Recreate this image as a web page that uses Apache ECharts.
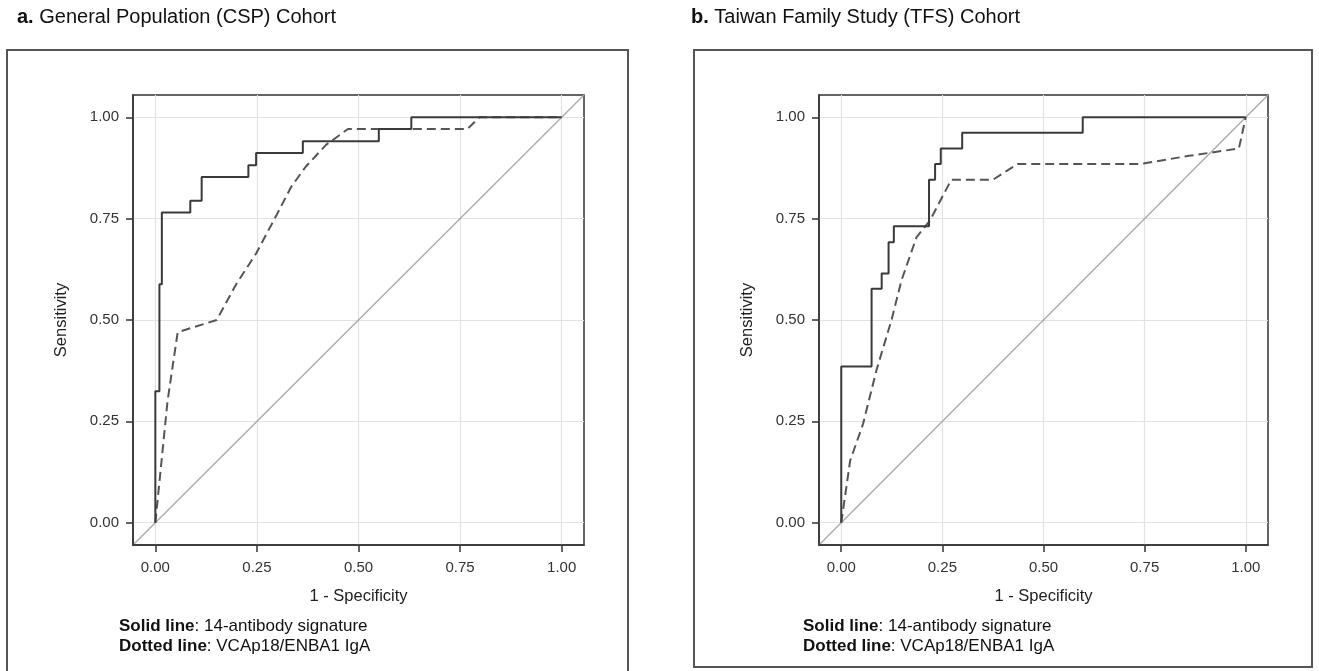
<!DOCTYPE html>
<html>
<head>
<meta charset="utf-8">
<script src="https://cdn.jsdelivr.net/npm/echarts@6/dist/echarts.min.js"></script>
<style>
  html, body { margin: 0; padding: 0; background: #fff; }
  #chart { width: 1319px; height: 671px; }
</style>
</head>
<body>
<div id="chart"></div>
<script>
// ---------- data ----------
const tickValues = [0, 0.25, 0.5, 0.75, 1];
const axisRange = [-0.055, 1.055];
const diagonalLine = [[-0.055, -0.055], [1.055, 1.055]];

// a. CSP cohort – solid (14-antibody signature), step ROC corners
const cspSolidFpr = [0, 0, 0.010, 0.010, 0.016, 0.016, 0.086, 0.086, 0.114, 0.114, 0.229, 0.229, 0.248, 0.248, 0.363, 0.363, 0.550, 0.550, 0.630, 0.630, 1.0];
const cspSolidTpr = [0, 0.324, 0.324, 0.588, 0.588, 0.765, 0.765, 0.794, 0.794, 0.853, 0.853, 0.882, 0.882, 0.912, 0.912, 0.941, 0.941, 0.971, 0.971, 1.0, 1.0];
// a. CSP cohort – dashed (VCAp18/EBNA1 IgA)
const cspDashFpr = [0, 0.006, 0.030, 0.055, 0.151, 0.200, 0.248, 0.300, 0.334, 0.370, 0.420, 0.474, 0.768, 0.798, 1.0];
const cspDashTpr = [0, 0.060, 0.300, 0.470, 0.500, 0.590, 0.664, 0.762, 0.828, 0.878, 0.932, 0.971, 0.971, 1.0, 1.0];

// b. TFS cohort – solid
const tfsSolidFpr = [0, 0, 0.075, 0.075, 0.100, 0.100, 0.117, 0.117, 0.130, 0.130, 0.217, 0.217, 0.232, 0.232, 0.246, 0.246, 0.299, 0.299, 0.597, 0.597, 1.0];
const tfsSolidTpr = [0, 0.385, 0.385, 0.577, 0.577, 0.615, 0.615, 0.692, 0.692, 0.731, 0.731, 0.846, 0.846, 0.885, 0.885, 0.923, 0.923, 0.962, 0.962, 1.0, 1.0];
// b. TFS cohort – dashed
const tfsDashFpr = [0, 0.022, 0.054, 0.087, 0.124, 0.149, 0.186, 0.219, 0.272, 0.375, 0.436, 0.740, 0.860, 0.983, 1.0];
const tfsDashTpr = [0, 0.153, 0.244, 0.376, 0.499, 0.598, 0.704, 0.745, 0.846, 0.846, 0.885, 0.885, 0.905, 0.923, 1.0];

const panelTitles = ['a.', 'b.'];
const panelNames = [' General Population (CSP) Cohort', ' Taiwan Family Study (TFS) Cohort'];
const xAxisTitle = '1 - Specificity';
const yAxisTitle = 'Sensitivity';
const legendSolid = ['Solid line', ': 14-antibody signature'];
const legendDotted = ['Dotted line', ': VCAp18/ENBA1 IgA'];

// ---------- helpers ----------
const FONT = '"Liberation Sans", Arial, Helvetica, sans-serif';
const zip = (xs, ys) => xs.map((x, i) => [x, ys[i]]);

const grids = [
  { left: 133, top: 95, width: 451, height: 450 },
  { left: 819, top: 95, width: 449, height: 450 }
];

function makeAxis(gridIndex, isX) {
  return {
    type: 'value',
    gridIndex: gridIndex,
    min: axisRange[0],
    max: axisRange[1],
    name: isX ? xAxisTitle : yAxisTitle,
    nameLocation: 'middle',
    nameGap: isX ? 43 : 63,
    nameTextStyle: { fontFamily: FONT, fontSize: 16.5, color: '#222' },
    axisLine: { show: true, onZero: false, lineStyle: { color: '#333', width: 1.5 } },
    axisTick: { show: true, inside: false, length: 7, customValues: tickValues, lineStyle: { color: '#333', width: 1.5 } },
    axisLabel: {
      show: true, customValues: tickValues, margin: isX ? 15 : 14,
      fontFamily: FONT, fontSize: 15, color: '#333',
      formatter: v => Number(v).toFixed(2)
    },
    splitLine: { show: false },
    z: 6
  };
}

function gridMarkLines() {
  const data = [];
  tickValues.forEach(v => { data.push({ xAxis: v }); data.push({ yAxis: v }); });
  return {
    silent: true,
    z: 1,
    symbol: ['none', 'none'],
    label: { show: false },
    lineStyle: { color: '#e2e2e2', width: 1.2, type: 'solid' },
    emphasis: { disabled: true },
    animation: false,
    data: data
  };
}

function panelSeries(gi, solidX, solidY, dashX, dashY) {
  return [
    {
      type: 'line', xAxisIndex: gi, yAxisIndex: gi,
      data: diagonalLine, showSymbol: false, symbol: 'none', silent: true,
      lineStyle: { color: '#a8a8a8', width: 1.3 },
      markLine: gridMarkLines(),
      z: 2
    },
    {
      type: 'line', xAxisIndex: gi, yAxisIndex: gi,
      data: zip(dashX, dashY), showSymbol: false, symbol: 'none', silent: true,
      lineStyle: { color: '#555', width: 2, type: [9, 5] },
      z: 3
    },
    {
      type: 'line', xAxisIndex: gi, yAxisIndex: gi,
      data: zip(solidX, solidY), showSymbol: false, symbol: 'none', silent: true,
      lineStyle: { color: '#3a3a3a', width: 2 },
      z: 4
    }
  ];
}

function titleText(i, left) {
  return {
    type: 'text', left: left, top: 7, silent: true,
    style: {
      text: '{b|' + panelTitles[i] + '}' + panelNames[i],
      fontFamily: FONT, fontSize: 20, fill: '#111',
      rich: { b: { fontFamily: FONT, fontSize: 20, fontWeight: 'bold', fill: '#111' } }
    }
  };
}

function legendText(left) {
  return {
    type: 'text', left: left, top: 616, silent: true,
    style: {
      text: '{b|' + legendSolid[0] + '}' + legendSolid[1] + '\n{b|' + legendDotted[0] + '}' + legendDotted[1],
      fontFamily: FONT, fontSize: 17, fill: '#111', lineHeight: 20,
      rich: { b: { fontFamily: FONT, fontSize: 17, fontWeight: 'bold', fill: '#111', lineHeight: 20 } }
    }
  };
}

const chart = echarts.init(document.getElementById('chart'), null, { renderer: 'canvas' });
chart.setOption({
  backgroundColor: '#ffffff',
  animation: false,
  grid: grids.map(g => Object.assign({ show: true, borderColor: '#333', borderWidth: 1.5, backgroundColor: '#fff' }, g)),
  xAxis: [makeAxis(0, true), makeAxis(1, true)],
  yAxis: [makeAxis(0, false), makeAxis(1, false)],
  series: [].concat(
    panelSeries(0, cspSolidFpr, cspSolidTpr, cspDashFpr, cspDashTpr),
    panelSeries(1, tfsSolidFpr, tfsSolidTpr, tfsDashFpr, tfsDashTpr)
  ),
  graphic: [
    { type: 'rect', silent: true, shape: { x: 7, y: 50, width: 621, height: 622 }, style: { fill: 'none', stroke: '#555', lineWidth: 2 } },
    { type: 'rect', silent: true, shape: { x: 694, y: 50, width: 618, height: 617 }, style: { fill: 'none', stroke: '#555', lineWidth: 2 } },
    titleText(0, 17),
    titleText(1, 691),
    legendText(119),
    legendText(803)
  ]
});
</script>
</body>
</html>
